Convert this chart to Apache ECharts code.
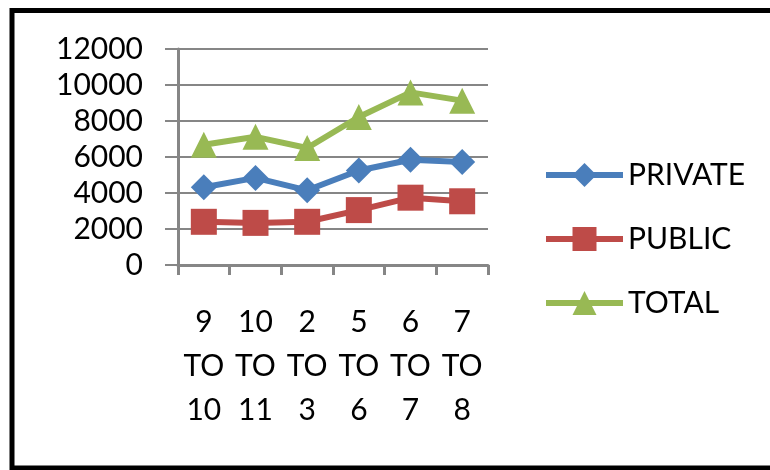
<!DOCTYPE html>
<html>
<head>
<meta charset="utf-8">
<script src="https://cdn.jsdelivr.net/npm/echarts@6/dist/echarts.min.js"></script>
<style>
html,body{margin:0;padding:0;background:#fff;}
#chart{width:770px;height:470px;}
</style>
</head>
<body>
<div id="chart"></div>
<script>
const categories = ['9\nTO\n10', '10\nTO\n11', '2\nTO\n3', '5\nTO\n6', '6\nTO\n7', '7\nTO\n8'];
const privateValues = [4320, 4840, 4150, 5250, 5850, 5720];
const publicValues = [2400, 2340, 2400, 3050, 3740, 3540];
const totalValues = [6680, 7120, 6500, 8220, 9590, 9130];
const yTicks = { min: 0, max: 12000, interval: 2000 };

const FONT = 'Lato';
const chart = echarts.init(document.getElementById('chart'));

function mkSeries(name, data, color, symbol) {
  return {
    name: name,
    type: 'line',
    data: data,
    symbol: symbol,
    symbolSize: 26,
    lineStyle: { color: color, width: 6 },
    itemStyle: { color: color },
    emphasis: { disabled: true },
    animation: false
  };
}

chart.setOption({
  backgroundColor: '#fff',
  animation: false,
  graphic: [{
    type: 'rect',
    shape: { x: 12, y: 10.5, width: 800, height: 457.5 },
    style: { fill: 'none', stroke: '#000', lineWidth: 5 },
    silent: true
  }],
  grid: { left: 178, right: 282, top: 49, bottom: 205, containLabel: false },
  legend: {
    orient: 'vertical',
    left: 543,
    top: 160,
    padding: 0,
    itemWidth: 77,
    itemHeight: 30,
    itemGap: 34,
    lineStyle: { width: 6 },
    textStyle: { fontFamily: FONT, fontSize: 30, color: '#000' },
    data: ['PRIVATE', 'PUBLIC', 'TOTAL']
  },
  xAxis: {
    type: 'category',
    data: categories,
    boundaryGap: true,
    axisLine: { lineStyle: { color: '#868686', width: 3 } },
    axisTick: { show: true, length: 10, lineStyle: { color: '#868686', width: 3 } },
    axisLabel: {
      interval: 0,
      margin: 35,
      fontFamily: FONT,
      fontSize: 30,
      lineHeight: 44,
      color: '#000'
    },
    splitLine: { show: false }
  },
  yAxis: {
    type: 'value',
    min: yTicks.min,
    max: yTicks.max,
    interval: yTicks.interval,
    axisLine: { show: true, lineStyle: { color: '#868686', width: 3 } },
    axisTick: { show: true, length: 13, lineStyle: { color: '#868686', width: 2 } },
    axisLabel: { margin: 35, fontFamily: FONT, fontSize: 30, color: '#000', formatter: function (v) { return String(v); } },
    splitLine: { show: true, lineStyle: { color: '#868686', width: 2 } }
  },
  series: [
    mkSeries('PRIVATE', privateValues, '#4A7EBB', 'diamond'),
    mkSeries('PUBLIC', publicValues, '#BE4B48', 'rect'),
    mkSeries('TOTAL', totalValues, '#98B954', 'triangle')
  ]
});
</script>
</body>
</html>
